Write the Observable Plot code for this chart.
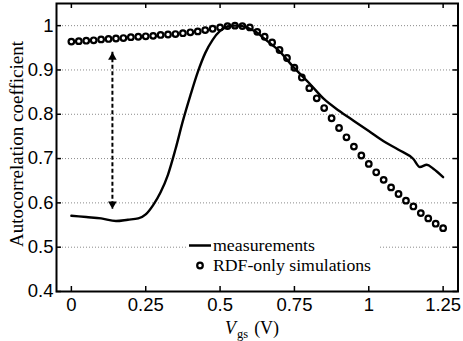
<!DOCTYPE html>
<html>
<head>
<meta charset="utf-8">
<script src="https://cdn.jsdelivr.net/npm/d3@7"></script>
<script src="https://cdn.jsdelivr.net/npm/@observablehq/plot@0.6"></script>
<style>
  body { margin: 0; background: #fff; }
  #chart { width: 463px; height: 341px; }
</style>
</head>
<body>
<div id="chart"></div>
<script>
// ---- data ----
const measV = [0, 0.05, 0.1, 0.15, 0.19, 0.225, 0.25, 0.275, 0.3, 0.325, 0.35, 0.375, 0.4, 0.425, 0.45, 0.475, 0.5, 0.525, 0.55, 0.575, 0.6, 0.625, 0.65, 0.7, 0.75, 0.8, 0.85, 0.9, 0.95, 1.0, 1.05, 1.1, 1.15, 1.172, 1.195, 1.217, 1.25];
const measR = [0.571, 0.568, 0.565, 0.559, 0.562, 0.565, 0.574, 0.595, 0.624, 0.664, 0.721, 0.785, 0.842, 0.895, 0.938, 0.968, 0.988, 0.998, 1.000, 0.999, 0.993, 0.984, 0.970, 0.942, 0.904, 0.870, 0.834, 0.808, 0.785, 0.762, 0.739, 0.720, 0.699, 0.681, 0.686, 0.677, 0.658];

const simV = [0, 0.025, 0.05, 0.075, 0.1, 0.125, 0.15, 0.175, 0.2, 0.225, 0.25, 0.275, 0.3, 0.325, 0.35, 0.375, 0.4, 0.425, 0.45, 0.475, 0.5, 0.525, 0.55, 0.575, 0.6, 0.625, 0.65, 0.675, 0.7, 0.725, 0.75, 0.775, 0.8, 0.825, 0.85, 0.875, 0.9, 0.925, 0.95, 0.975, 1.0, 1.025, 1.05, 1.075, 1.1, 1.125, 1.15, 1.175, 1.2, 1.225, 1.25];
const simR = [0.964, 0.965, 0.966, 0.967, 0.969, 0.970, 0.971, 0.972, 0.974, 0.975, 0.976, 0.977, 0.979, 0.980, 0.981, 0.983, 0.985, 0.987, 0.990, 0.993, 0.996, 0.999, 1.000, 0.999, 0.996, 0.986, 0.975, 0.962, 0.945, 0.927, 0.905, 0.883, 0.859, 0.836, 0.814, 0.791, 0.769, 0.748, 0.727, 0.707, 0.688, 0.669, 0.652, 0.635, 0.620, 0.605, 0.592, 0.577, 0.565, 0.553, 0.543];

const xTicks = [0, 0.25, 0.5, 0.75, 1, 1.25];
const xTickLabels = ["0", "0.25", "0.5", "0.75", "1", "1.25"];
const yTicks = [0.4, 0.5, 0.6, 0.7, 0.8, 0.9, 1];
const yTickLabels = ["0.4", "0.5", "0.6", "0.7", "0.8", "0.9", "1"];

const gapV = [0.138];
const gapTop = [0.94];
const gapBottom = [0.586];

const seriesNames = ["measurements", "RDF-only simulations"];
const yTitle = "Autocorrelation coefficient";
const xTitleMain = "V", xTitleSub = "gs", xTitleUnit = "(V)";

// ---- build ----
const meas = measV.map((v, i) => ({v, r: measR[i]}));
const sim = simV.map((v, i) => ({v, r: simR[i]}));

const W = 463, H = 341, mL = 56, mR = 5.5, mT = 3, mB = 50;
const pw = W - mL - mR, ph = H - mT - mB;

const plot = Plot.plot({
  width: W, height: H,
  marginLeft: mL, marginRight: mR, marginTop: mT, marginBottom: mB,
  style: {fontFamily: "'Liberation Sans', Arial, sans-serif", fontSize: "18.5px", background: "white", color: "black", overflow: "visible"},
  x: {domain: [-0.05, 1.3]},
  y: {domain: [0.4, 1.05]},
  marks: [
    Plot.ruleY(yTicks.filter(d => d > 0.4), {stroke: "#8a8a8a", strokeDasharray: "1,2", strokeWidth: 1}),
    Plot.ruleX(xTicks, {insetTop: ph - 5, stroke: "black", strokeWidth: 1.5}),
    Plot.ruleX(xTicks, {insetBottom: ph - 5, stroke: "black", strokeWidth: 1.5}),
    Plot.ruleY(yTicks, {insetRight: pw - 5, stroke: "black", strokeWidth: 1.5}),
    Plot.ruleY(yTicks, {insetLeft: pw - 5, stroke: "black", strokeWidth: 1.5}),
    Plot.axisX(xTicks, {tickSize: 0, tickPadding: 6, tickFormat: d => xTickLabels[xTicks.indexOf(d)], label: null, fill: "black"}),
    Plot.axisY(yTicks, {tickSize: 0, tickPadding: 3, tickFormat: d => yTickLabels[yTicks.indexOf(d)], label: null, fill: "black"}),
    Plot.line(meas, {x: "v", y: "r", stroke: "black", strokeWidth: 2.4, curve: "monotone-x"}),
    Plot.dot(sim, {x: "v", y: "r", r: 2.8, stroke: "black", strokeWidth: 2.2, fill: "none"}),
    Plot.ruleX(gapV, {x: d => d, y1: gapTop, y2: gapBottom, stroke: "black", strokeWidth: 2, strokeDasharray: "4,2.5"}),
    Plot.dot(gapV, {x: d => d, y: gapTop, symbol: "triangle", r: 3.2, fill: "black", stroke: null, dy: 5}),
    Plot.dot(gapV, {x: d => d, y: gapBottom, symbol: "triangle", r: 3.2, fill: "black", stroke: null, dy: -5, rotate: 180}),
    Plot.frame({stroke: "black", strokeWidth: 2})
  ]
});

const svg = d3.select(plot);
// y title
svg.append("text")
  .attr("transform", "translate(17,144) rotate(-90)")
  .attr("text-anchor", "middle")
  .attr("dy", "0.35em")
  .attr("font-family", "'Liberation Serif', 'Times New Roman', serif")
  .attr("font-size", 18)
  .attr("textLength", 206).attr("lengthAdjust", "spacingAndGlyphs")
  .attr("fill", "black")
  .text(yTitle);

// x title with subscript
const xt = svg.append("text")
  .attr("x", 225).attr("y", 334)
  .attr("text-anchor", "start")
  .attr("font-family", "'Liberation Serif', 'Times New Roman', serif")
  .attr("font-size", 18).attr("fill", "black");
xt.append("tspan").attr("font-style", "italic").text(xTitleMain);
xt.append("tspan").attr("font-size", 12.5).attr("dy", 3.5).attr("dx", 1).text(xTitleSub);
xt.append("tspan").attr("dy", -3.5).attr("dx", 6).text(xTitleUnit);

// legend
const lg = svg.append("g");
lg.append("rect").attr("x", 187).attr("y", 236).attr("width", 191).attr("height", 40).attr("fill", "white");
lg.append("line").attr("x1", 189).attr("x2", 211).attr("y1", 245.5).attr("y2", 245.5)
  .attr("stroke", "black").attr("stroke-width", 2.5);
lg.append("circle").attr("cx", 200).attr("cy", 265.5).attr("r", 2.8)
  .attr("fill", "none").attr("stroke", "black").attr("stroke-width", 2.2);
lg.selectAll("text.leg").data(seriesNames).join("text")
  .attr("class", "leg")
  .attr("x", 213).attr("y", (d, i) => i === 0 ? 250.5 : 270.5)
  .attr("text-anchor", "start")
  .attr("font-family", "'Liberation Serif', 'Times New Roman', serif")
  .attr("font-size", 16)
  .attr("textLength", (d, i) => i === 0 ? 102 : 158).attr("lengthAdjust", "spacingAndGlyphs")
  .attr("fill", "black")
  .text(d => d);

document.getElementById("chart").appendChild(plot);
</script>
</body>
</html>
